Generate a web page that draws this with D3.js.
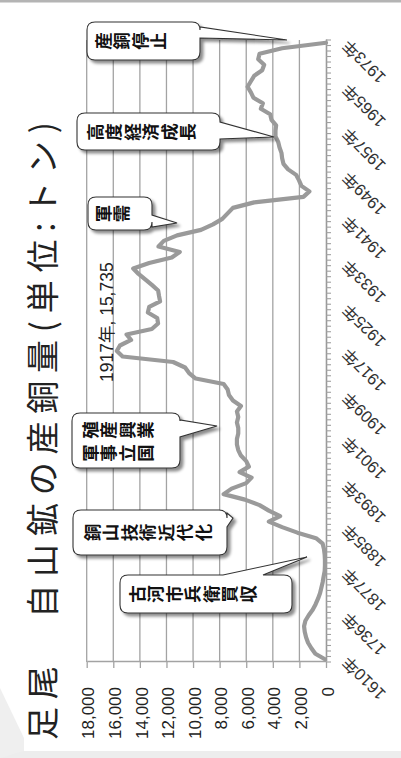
<!DOCTYPE html>
<html><head><meta charset="utf-8">
<script src="https://cdn.jsdelivr.net/npm/d3@7"></script>
<style>body{margin:0;background:#fff}svg{display:block}</style>
</head><body>
<svg id="c" width="401" height="758"></svg>
<script>
// ---- data ----
const years = ["1610","1650","1665","1676","1680","1684","1688","1700",
  "1736","1750","1764","1781","1800","1820","1840","1868",
  "1877","1878","1879","1880","1881","1882","1883","1884","1885","1886","1887","1888","1889","1890",
  "1891","1892","1893","1894","1895","1896","1897","1898","1899","1900","1901","1902","1903","1904",
  "1905","1906","1907","1908","1909","1910","1911","1912","1913","1914","1915","1916","1917","1918",
  "1919","1920","1921","1922","1923","1924","1925","1926","1927","1928","1929","1930","1931","1932",
  "1933","1934","1935","1936","1937","1938","1939","1940","1941","1942","1943","1944","1945","1946",
  "1947","1948","1949","1950","1951","1952","1953","1954","1955","1956","1957","1958","1959","1960",
  "1961","1962","1963","1964","1965","1966","1967","1968","1969","1970","1971","1972","1973"];
const copper = [80,800,1100,1350,1500,1600,1650,1550,
  1300,1000,780,600,450,350,250,180,
  100,80,80,100,150,250,750,2150,3300,4300,3450,4300,5000,6100,
  7700,7100,6000,5600,6500,5800,6000,6400,6600,6700,6700,6600,6600,6700,
  6600,6700,6400,7000,7300,7400,7700,9800,10300,10600,11500,15300,15735,15500,
  14660,15000,13100,12630,12700,13400,13300,12480,12560,12630,13100,13600,14100,14500,
  13300,11600,11000,12600,12200,11200,9400,8500,7800,7400,7000,5400,1700,1250,
  1850,2030,2250,2850,3200,3300,3350,3500,3600,3800,3800,3750,4100,4200,
  4900,4750,5450,5650,5900,5650,5400,4800,4650,5100,5000,3300,0];
const yTicks = [0,2000,4000,6000,8000,10000,12000,14000,16000,18000];
const labelYears = ["1610","1736","1877","1885","1893","1901","1909","1917","1925","1933","1941","1949","1957","1965","1973"];
const titleText = "足尾　自山鉱の産銅量(単位:トン)";
const peakText = "1917年, 15,735";
const calloutTexts = [["産銅停止"],["高度経済成長"],["軍需"],["殖産興業","軍事立国"],["銅山技術近代化"],["古河市兵衛買収"]];

// ---- layout (image coordinates for callouts) ----
const calloutLayout = [
  {x:87,y:22,w:113,h:38,side:"right",a:27,b:38,tx:287,ty:40,sx:93,rows:[41]},
  {x:77,y:113,w:143,h:37,side:"right",a:122,b:139,tx:274,ty:137,sx:85,rows:[132]},
  {x:88,y:197,w:64,h:33,side:"right",a:215,b:227,tx:177,ty:223,sx:93,rows:[213.5]},
  {x:72,y:413,w:108,h:55,side:"right",a:420,b:437,tx:217,ty:426,sx:80,rows:[430,453]},
  {x:73,y:510,w:154,h:45,side:"right",a:513,b:527,tx:233,ty:518,sx:82,rows:[532.5]},
  {x:120,y:575,w:172,h:38,side:"top",a:223,b:263,tx:307,ty:557,sx:127,rows:[594]}
];

const svg = d3.select("#c");
const defs = svg.append("defs");
const f = defs.append("filter").attr("id","sh").attr("x","-20%").attr("y","-20%").attr("width","150%").attr("height","150%");
f.append("feDropShadow").attr("dx",3).attr("dy",3).attr("stdDeviation",1.6)
  .attr("flood-color","#000").attr("flood-opacity",0.45);

// background artefacts
svg.append("rect").attr("x",0).attr("y",0).attr("width",401).attr("height",2.5).attr("fill","#b4b4b4");
svg.append("rect").attr("x",0).attr("y",751).attr("width",401).attr("height",7).attr("fill","#ededed");
svg.append("path").attr("d","M0,688 L24,738 L24,751 L0,758 Z").attr("fill","#efefef");

// ---- chart drawn in landscape coordinates, rotated -90° ----
const root = svg.append("g").attr("transform","translate(0,758) rotate(-90)");
const X0 = 96, X1 = 718, Y0 = 326, Y1 = 86.7;
const x = d3.scaleBand().domain(years).range([X0, X1]);
const xc = d => x(d) + x.bandwidth()/2;
const y = d3.scaleLinear().domain([0,18000]).range([Y0, Y1]);

const gridCol = "#a3a3a3";
// gridlines
root.append("g").selectAll("line").data(yTicks.filter(t=>t>0)).join("line")
  .attr("x1",X0).attr("x2",X1).attr("y1",d=>y(d)).attr("y2",d=>y(d))
  .attr("stroke",gridCol).attr("stroke-width",1.3);

// value axis
const ya = root.append("g").attr("transform",`translate(${X0},0)`)
  .call(d3.axisLeft(y).tickValues(yTicks).tickSize(6).tickSizeOuter(0).tickPadding(19).tickFormat(d3.format(",")));
ya.select(".domain").attr("stroke",gridCol).attr("stroke-width",1.3);
ya.selectAll(".tick line").attr("stroke",gridCol).attr("stroke-width",1.3);
ya.selectAll(".tick text").attr("dy","0.42em")
  .style("font-family","'Liberation Sans', Arial, sans-serif").style("font-size","17px").attr("fill","#222");

// category axis
const xa = root.append("g").attr("transform",`translate(0,${Y0})`)
  .call(d3.axisBottom(x).tickValues(labelYears).tickSize(0).tickSizeOuter(0).tickFormat(d=>d+"年"));
xa.select(".domain").attr("stroke","#999").attr("stroke-width",1.6);
xa.selectAll(".tick text").attr("x",0).attr("y",0).attr("dy",0)
  .attr("transform","translate(4,23) rotate(-45)").style("text-anchor","end")
  .style("font-family","'Liberation Sans', 'Noto Sans CJK JP', sans-serif").style("font-size","16.5px").attr("fill","#333");
// minor tick marks at category boundaries
const bounds = years.map(d=>x(d)).concat([X1]);
root.append("g").selectAll("line").data(bounds).join("line")
  .attr("x1",d=>d).attr("x2",d=>d).attr("y1",Y0).attr("y2",Y0+5)
  .attr("stroke","#a0a0a0").attr("stroke-width",1.1);

// data line
root.append("path").datum(copper)
  .attr("d", d3.line().x((d,i)=>xc(years[i])).y(d=>y(d)))
  .attr("fill","none").attr("stroke","#9a9a9a").attr("stroke-width",4.2)
  .attr("stroke-linejoin","round").attr("stroke-linecap","round");

// title
root.append("text").attr("x",18).attr("y",55).text(titleText)
  .attr("textLength",618).attr("lengthAdjust","spacing")
  .style("font-family","'Noto Sans CJK JP', sans-serif").style("font-size","33px").attr("fill","#222");

// peak label
root.append("text").attr("x",376).attr("y",113).text(peakText)
  .style("font-family","'Liberation Sans', 'Noto Sans CJK JP', sans-serif").style("font-size","17.5px").attr("fill","#222");

// ---- callouts (image coordinates) ----
function calloutPath(L){
  const {x,y,w,h} = L, r = 8;
  let p = `M${x+r},${y}`;
  if (L.side==="top") p += `L${L.a},${y}L${L.tx},${L.ty}L${L.b},${y}`;
  p += `L${x+w-r},${y}Q${x+w},${y} ${x+w},${y+r}`;
  if (L.side==="right") p += `L${x+w},${L.a}L${L.tx},${L.ty}L${x+w},${L.b}`;
  p += `L${x+w},${y+h-r}Q${x+w},${y+h} ${x+w-r},${y+h}`;
  p += `L${x+r},${y+h}Q${x},${y+h} ${x},${y+h-r}L${x},${y+r}Q${x},${y} ${x+r},${y}Z`;
  return p;
}
const cg = svg.append("g");
calloutLayout.forEach((L,k)=>{
  const g = cg.append("g");
  g.append("path").attr("d",calloutPath(L)).attr("fill","#fff")
    .attr("stroke","#333").attr("stroke-width",1.1).attr("filter","url(#sh)");
  calloutTexts[k].forEach((line,li)=>{
    const cy = L.rows[li];
    Array.from(line).forEach((ch,ci)=>{
      const cx = L.sx + (ci+0.5)*18.5;
      g.append("text").attr("transform",`translate(${cx},${cy}) rotate(-90)`)
        .attr("text-anchor","middle").attr("dominant-baseline","central")
        .style("font-family","'Noto Sans CJK JP', sans-serif").style("font-size","17.5px")
        .style("font-weight","700").attr("fill","#111").text(ch);
    });
  });
});
</script>
</body></html>
